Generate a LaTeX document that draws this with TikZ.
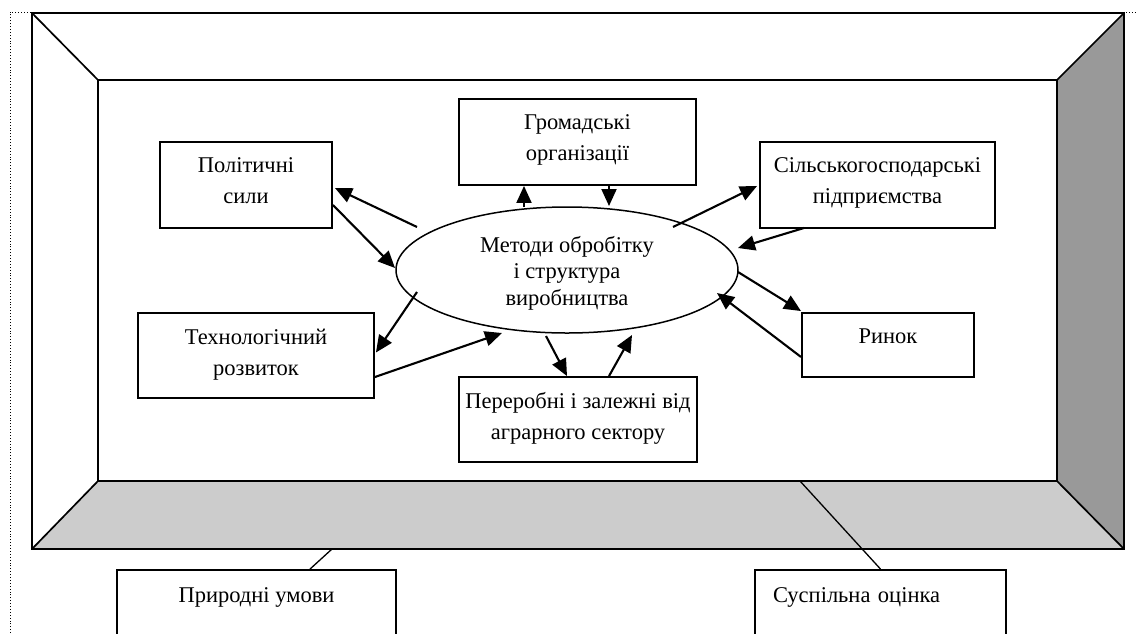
\documentclass[tikz,border=0pt]{standalone}
\usepackage{fontspec}
\setmainfont{Liberation Serif}
\usetikzlibrary{arrows.meta,calc,shapes.geometric}
\definecolor{lightgr}{HTML}{CCCCCC}
\definecolor{darkgr}{HTML}{999999}
\newcommand\boxfont{\fontsize{22.5}{30.5}\selectfont}
\newcommand\ellfont{\fontsize{22.5}{26.5}\selectfont}
\tikzset{
  frameline/.style={draw=black, line width=1.7pt, line join=miter},
  box/.style={draw=black, line width=1.9pt, rectangle, fill=white, inner sep=0pt,
              align=center, font=\boxfont},
  ellbox/.style={draw=black, line width=1.5pt, ellipse, fill=white, inner sep=0pt,
              align=center, font=\ellfont},
  arr/.style={line width=2.1pt, -{Triangle[length=17pt,width=15pt]}},
  conn/.style={line width=1.3pt},
}
\begin{document}
\begin{tikzpicture}[x=1pt,y=-1pt]
\clip (0,0) rectangle (1137,633);
\fill[white] (0,0) rectangle (1137,633);
% dotted outer border
\draw[dotted, line width=0.9pt] (10,633) -- (10,12) -- (1137,12);
% frame
\fill[lightgr] (32,549) -- (98,481) -- (1057,481) -- (1124,549) -- cycle;
\fill[darkgr] (1057,80) -- (1124,13) -- (1124,549) -- (1057,481) -- cycle;
\draw[frameline] (32,13) rectangle (1124,549);
\draw[frameline] (98,80) rectangle (1057,481);
\draw[frameline] (32,13) -- (98,80);
\draw[frameline] (1124,13) -- (1057,80);
\draw[frameline] (32,549) -- (98,481);
\draw[frameline] (1124,549) -- (1057,481);

% nodes
\node[box, minimum width=172pt, minimum height=86pt, text height=41pt, text depth=5pt] (pol) at (246,185) {Політичні\\сили};
\node[box, minimum width=237pt, minimum height=86pt, text height=41pt, text depth=5pt] (grom) at (577.5,142) {Громадські\\організації};
\node[box, minimum width=235pt, minimum height=86pt, text height=41pt, text depth=5pt] (silk) at (877.5,185) {Сільськогосподарські\\підприємства};
\node[ellbox, minimum width=342pt, minimum height=126pt, text height=75pt, text depth=5pt] (ell) at (567,270) {Методи обробітку\\і структура\\виробництва};
\node[box, minimum width=236pt, minimum height=85pt, text height=44pt, text depth=5pt] (tech) at (256,355.5) {Технологічний\\розвиток};
\node[box, minimum width=172pt, minimum height=64pt, text height=14pt, text depth=18pt] (rynok) at (888,345) {Ринок};
\node[box, minimum width=238pt, minimum height=85pt, text height=44pt, text depth=5pt] (perer) at (578,419.5) {Переробні і залежні від\\аграрного сектору};
\node[box, minimum width=279pt, minimum height=86pt, text height=14pt, text depth=36pt] (pryr) at (256.5,613) {Природні умови};
\node[box, minimum width=251pt, minimum height=86pt, text height=14pt, text depth=36pt, text width=215pt, align=left, inner xsep=18pt] (susp) at (880.5,613) {Суспільна оцінка};

% connectors to the frame
\coordinate (fr1) at (332,549);
\coordinate (fr2) at (800,481);
\draw[conn] ($(pryr.north)+(53.5,0)$) -- (fr1);
\draw[conn] (susp.north) -- (fr2);

% arrows
\draw[arr] ($(ell.center)+(-150,-43)$) -- ($(pol.east)+(2,3)$);
\draw[arr] ($(pol.east)+(0,20)$) -- ($(ell.center)+(-172,-2)$);
\draw[arr] ($(ell.center)+(-43,-63)$) -- ($(grom.south)+(-53.5,0)$);
\draw[arr] ($(grom.south)+(31.5,0)$) -- ($(ell.center)+(42,-64)$);
\draw[arr] ($(ell.center)+(106,-43)$) -- ($(silk.south west)+(-2,-43)$);
\draw[arr] ($(silk.south west)+(45,-1)$) -- ($(ell.center)+(171,-22)$);
\draw[arr] ($(ell.center)+(171,2)$) -- ($(rynok.north west)+(0,-1)$);
\draw[arr] ($(rynok.west)+(0,12)$) -- ($(ell.center)+(150,23)$);
\draw[arr] ($(ell.center)+(-150,22)$) -- ($(tech.east)+(1,-3)$);
\draw[arr] ($(tech.east)+(0,21.5)$) -- ($(ell.center)+(-65,63)$);
\draw[arr] ($(ell.center)+(-21,66)$) -- ($(perer.north)+(-11,0)$);
\draw[arr] ($(perer.north)+(31,0)$) -- ($(ell.center)+(65,65)$);
\end{tikzpicture}
\end{document}
